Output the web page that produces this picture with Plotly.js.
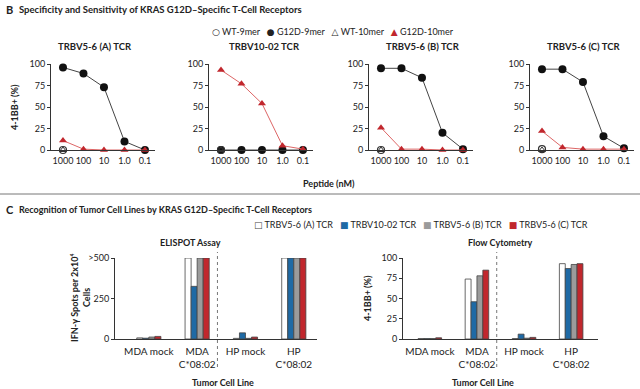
<!DOCTYPE html>
<html><head><meta charset="utf-8">
<script src="https://cdn.plot.ly/plotly-3.0.1.min.js"></script>
<style>html,body{margin:0;padding:0;background:#fff}#chart{width:640px;height:389px}</style>
</head><body><div id="chart"></div>
<script>
// ---- Data: panel B (peptide titration) ----
const concentrations = [1000, 100, 10, 1, 0.1];
const concLabels = ['1000', '100', '10', '1.0', '0.1'];
const wtConc = [1000];
const panelTitles = ['TRBV5-6 (A) TCR', 'TRBV10-02 TCR', 'TRBV5-6 (B) TCR', 'TRBV5-6 (C) TCR'];

const g12d9_A = [96, 89, 73, 10, 0];
const g12d10_A = [11, 1, 0, 0, 0];
const wt9_A = [0];
const wt10_A = [0];

const g12d9_B = [0, 0, 0, 0, 0];
const g12d10_B = [93, 77, 54, 5, 1];
const wt9_B = [0];
const wt10_B = [0];

const g12d9_C = [95, 95, 84, 20, 1];
const g12d10_C = [26, 1, 1, 0, 0];
const wt9_C = [0];
const wt10_C = [0];

const g12d9_D = [94, 94, 79, 16, 2];
const g12d10_D = [22, 3, 1, 1, 1];
const wt9_D = [1];
const wt10_D = [0];

// ---- Data: panel C (tumor cell lines) ----
const cellLines = ['MDA mock', 'MDA C*08:02', 'HP mock', 'HP C*08:02'];
const cellLineLabels = ['MDA mock', 'MDA<br>C*08:02', 'HP mock', 'HP<br>C*08:02'];
const tcrNames = ['TRBV5-6 (A) TCR', 'TRBV10-02 TCR', 'TRBV5-6 (B) TCR', 'TRBV5-6 (C) TCR'];
const elispot_A = [7, 500, 4, 500];
const elispot_1002 = [5, 325, 38, 500];
const elispot_B = [12, 500, 4, 500];
const elispot_C = [16, 500, 12, 500];
const flow_A = [0.5, 74, 0.5, 93];
const flow_1002 = [0.5, 46, 6, 87];
const flow_B = [0.5, 78, 1, 92];
const flow_C = [1.5, 85, 2, 93];
const elispotTicks = [0, 250, 500];
const elispotTickText = ['0', '250', '&gt;500'];

// ---- Styling / layout helpers ----
const W = 640, H = 389;
const px = v => v / W;
const py = v => 1 - v / H;
const FONT = 'Lato, "Open Sans", sans-serif';
const txt = '#222';
const red = '#c1272d';
const tcrColors = ['#ffffff', '#1f6aa5', '#9b9b9b', '#c1272d'];

const g9 = [g12d9_A, g12d9_B, g12d9_C, g12d9_D];
const g10 = [g12d10_A, g12d10_B, g12d10_C, g12d10_D];
const w9 = [wt9_A, wt9_B, wt9_C, wt9_D];
const w10 = [wt10_A, wt10_B, wt10_C, wt10_D];

const traces = [];
for (let i = 0; i < 4; i++) {
  const xa = i === 0 ? 'x' : 'x' + (i + 1);
  const ya = i === 0 ? 'y' : 'y' + (i + 1);
  traces.push({x: concentrations, y: g9[i], xaxis: xa, yaxis: ya, mode: 'lines+markers', type: 'scatter',
    cliponaxis: false, showlegend: false,
    line: {color: '#444', width: 1},
    marker: {symbol: 'circle', size: 8, color: '#111'}});
  traces.push({x: concentrations, y: g10[i], xaxis: xa, yaxis: ya, mode: 'lines+markers', type: 'scatter',
    cliponaxis: false, showlegend: false,
    line: {color: '#dd6666', width: 1},
    marker: {symbol: 'triangle-up', size: 7, color: red}});
  traces.push({x: wtConc, y: w9[i], xaxis: xa, yaxis: ya, mode: 'markers', type: 'scatter',
    cliponaxis: false, showlegend: false,
    marker: {symbol: 'circle-open', size: 7, color: '#333', line: {width: 1.2, color: '#333'}}});
  traces.push({x: wtConc, y: w10[i], xaxis: xa, yaxis: ya, mode: 'markers', type: 'scatter',
    cliponaxis: false, showlegend: false,
    marker: {symbol: 'triangle-up-open', size: 6, color: '#333', line: {width: 1, color: '#333'}}});
}

const elispot = [elispot_A, elispot_1002, elispot_B, elispot_C];
const flow = [flow_A, flow_1002, flow_B, flow_C];
for (let k = 0; k < 4; k++) {
  traces.push({type: 'bar', x: cellLines, y: elispot[k], xaxis: 'x5', yaxis: 'y5', name: tcrNames[k],
    showlegend: false, marker: {color: tcrColors[k], line: {color: '#444', width: 0.8}}});
  traces.push({type: 'bar', x: cellLines, y: flow[k], xaxis: 'x6', yaxis: 'y6', name: tcrNames[k],
    showlegend: false, marker: {color: tcrColors[k], line: {color: '#444', width: 0.8}}});
}

const topX = [[51, 155], [209, 313], [369, 473], [530, 634]];
const titleX = [95, 264, 423, 583];
const topY = [py(150), py(64)];
const tickFont = {family: FONT, size: 9, color: txt};
const catTickFont = {family: FONT, size: 10, color: txt};

const layout = {
  width: W, height: H, margin: {l: 0, r: 0, t: 0, b: 0},
  paper_bgcolor: '#fff', plot_bgcolor: 'rgba(0,0,0,0)',
  showlegend: false, barmode: 'group', bargap: 0.5, bargroupgap: 0,
  font: {family: FONT, size: 9, color: txt},
  annotations: [], shapes: []
};

function ann(text, x, y, opts) {
  layout.annotations.push(Object.assign({text: text, x: px(x), y: py(y), xref: 'paper', yref: 'paper',
    xanchor: 'center', yanchor: 'middle', showarrow: false,
    font: {family: FONT, size: 9, color: txt}}, opts || {}));
}
const boldF = s => ({family: FONT, size: s, color: txt});

for (let i = 0; i < 4; i++) {
  const s = i === 0 ? '' : String(i + 1);
  layout['xaxis' + s] = {domain: [px(topX[i][0]), px(topX[i][1])], anchor: 'y' + s, type: 'log',
    range: [3.585, -1.49], tickvals: concentrations, ticktext: concLabels, ticks: '',
    ticklabelstandoff: 2,
    showline: true, linecolor: '#333', linewidth: 1, showgrid: false, zeroline: false,
    tickfont: tickFont, fixedrange: true};
  layout['yaxis' + s] = {domain: topY, anchor: 'x' + s, range: [0, 100], tickvals: [0, 25, 50, 75, 100],
    ticks: 'outside', ticklen: 3, tickcolor: '#333', showline: true, linecolor: '#333', linewidth: 1,
    showgrid: false, zeroline: false, tickfont: tickFont, fixedrange: true};
  ann('<b>' + panelTitles[i] + '</b>', titleX[i], 47, {font: boldF(9.5)});
}

layout.xaxis5 = {domain: [px(115), px(317)], anchor: 'y5', type: 'category', range: [-0.7, 3.48],
  tickvals: cellLines, ticktext: cellLineLabels, ticks: '', ticklabelstandoff: 3,
  showline: true, linecolor: '#333', linewidth: 1,
  showgrid: false, zeroline: false, tickfont: catTickFont};
layout.yaxis5 = {domain: [py(339), py(258)], anchor: 'x5', range: [0, 500], tickvals: elispotTicks,
  ticktext: elispotTickText, ticks: 'outside', ticklen: 3, tickcolor: '#333', showline: true,
  linecolor: '#333', linewidth: 1, showgrid: false, zeroline: false, tickfont: tickFont};
layout.xaxis6 = {domain: [px(403), px(598)], anchor: 'y6', type: 'category', range: [-0.57, 3.57],
  tickvals: cellLines, ticktext: cellLineLabels, ticks: '', ticklabelstandoff: 3,
  showline: true, linecolor: '#333', linewidth: 1,
  showgrid: false, zeroline: false, tickfont: catTickFont};
layout.yaxis6 = {domain: [py(339), py(258)], anchor: 'x6', range: [0, 100], tickvals: [0, 25, 50, 75, 100],
  ticks: 'outside', ticklen: 3, tickcolor: '#333', showline: true, linecolor: '#333', linewidth: 1,
  showgrid: false, zeroline: false, tickfont: tickFont};

// dotted separators
['x5', 'x6'].forEach(xr => layout.shapes.push({type: 'line', xref: xr, yref: 'paper', x0: 1.42, x1: 1.42,
  y0: py(367), y1: py(252), line: {color: '#777', width: 1, dash: 'dot'}}));
// horizontal rule
layout.shapes.push({type: 'line', xref: 'paper', yref: 'paper', x0: 0, x1: 1, y0: py(194), y1: py(194),
  line: {color: '#777', width: 1}});

ann('<b>B</b>', 4, 9, {xanchor: 'left', font: boldF(11)});
ann('<b>Specificity and Sensitivity of KRAS G12D–Specific T-Cell Receptors</b>', 17, 9, {xanchor: 'left', font: boldF(9.5)});
ann('<span style="font-family:DejaVu Sans">○</span> WT-9mer   <span style="font-family:DejaVu Sans">●</span> G12D-9mer   <span style="font-family:DejaVu Sans">△</span> WT-10mer   <span style="font-family:DejaVu Sans;color:' + red + '">▲</span> G12D-10mer',
  333, 31, {font: {family: FONT, size: 9, color: txt}});
ann('<b>4-1BB+ (%)</b>', 15, 107, {textangle: -90, font: boldF(9)});
ann('<b>Peptide (nM)</b>', 329, 183, {font: boldF(9)});

ann('<b>C</b>', 4, 209, {xanchor: 'left', font: boldF(11)});
ann('<b>Recognition of Tumor Cell Lines by KRAS G12D–Specific T-Cell Receptors</b>', 17, 209, {xanchor: 'left', font: boldF(9)});
const sq = c => '<span style="font-family:DejaVu Sans;color:' + (c === '#ffffff' ? '#444' : c) + '">' + (c === '#ffffff' ? '□' : '■') + '</span>';
ann(sq(tcrColors[0]) + ' ' + tcrNames[0] + '   ' + sq(tcrColors[1]) + ' ' + tcrNames[1] + '   ' +
    sq(tcrColors[2]) + ' ' + tcrNames[2] + '   ' + sq(tcrColors[3]) + ' ' + tcrNames[3], 421, 224,
    {font: {family: FONT, size: 9, color: txt}});
ann('<b>ELISPOT Assay</b>', 190, 242, {font: boldF(9)});
ann('<b>Flow Cytometry</b>', 500, 242, {font: boldF(9)});
ann('<b>IFN-γ Spots per 2x10⁴</b>', 74, 298, {textangle: -90, font: boldF(9)});
ann('<b>Cells</b>', 86, 298, {textangle: -90, font: boldF(9)});
ann('<b>4-1BB+ (%)</b>', 367, 298, {textangle: -90, font: boldF(9)});
ann('<b>Tumor Cell Line</b>', 223, 382, {font: boldF(9)});
ann('<b>Tumor Cell Line</b>', 483, 382, {font: boldF(9)});

Plotly.newPlot('chart', traces, layout, {displayModeBar: false, staticPlot: true});
</script></body></html>
